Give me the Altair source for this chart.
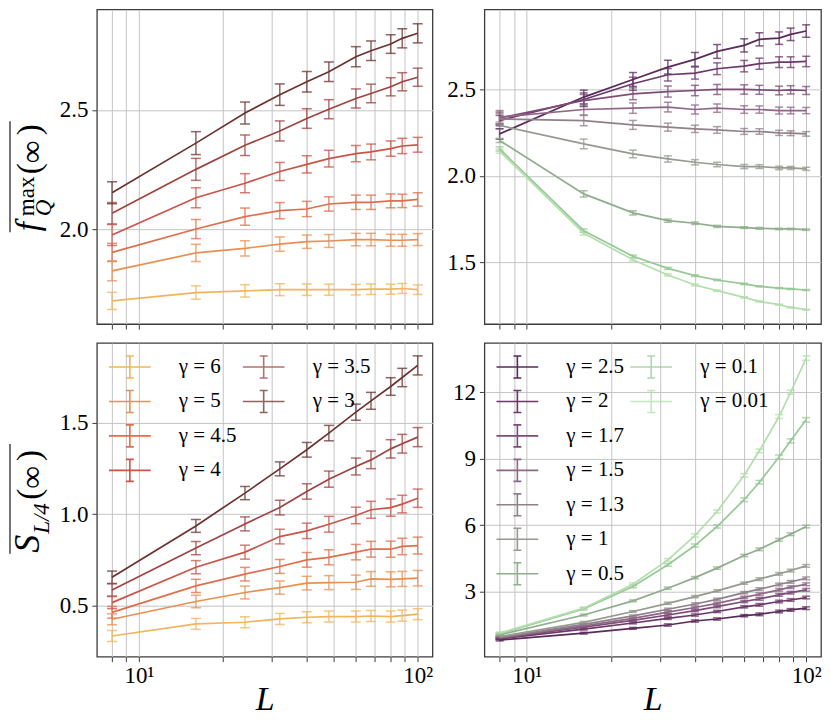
import altair as alt
import pandas as pd

FONT = "Liberation Serif"

# ---------------- data ----------------
L = [8, 16, 24, 32, 40, 48, 60, 68, 80, 88, 100]
X_TICKS = [8, 9, 10, 20, 30, 40, 50, 60, 70, 80, 90, 100]

# left panels: gamma >= 3
gam_left = ["6", "5", "4.5", "4", "3.5", "3"]
col_left = ["#f2b55c", "#ea8f52", "#df6f4c", "#c9554a", "#9e4441", "#6b3330"]

# right panels: gamma <= 2.5
gam_right = ["2.5", "2", "1.7", "1.5", "1.3", "1", "0.5", "0.1", "0.01"]
col_right = ["#5a2a5a", "#6c386a", "#7d4d78", "#8e6787", "#908089",
             "#959b8e", "#8fae8b", "#98c896", "#b2dfab"]

# top-left: mean f_Q^max(inf)
fq_6 = [1.700, 1.735, 1.742, 1.747, 1.747, 1.747, 1.747, 1.749, 1.749, 1.752, 1.747]
fq_5 = [1.826, 1.901, 1.920, 1.938, 1.948, 1.951, 1.957, 1.957, 1.954, 1.954, 1.957]
fq_4_5 = [1.903, 2.001, 2.053, 2.078, 2.085, 2.106, 2.113, 2.113, 2.119, 2.119, 2.125]
fq_4 = [1.976, 2.132, 2.193, 2.242, 2.272, 2.296, 2.317, 2.324, 2.338, 2.349, 2.354]
fq_3_5 = [2.067, 2.251, 2.352, 2.412, 2.464, 2.503, 2.548, 2.569, 2.597, 2.618, 2.637]
fq_3 = [2.153, 2.361, 2.487, 2.564, 2.618, 2.660, 2.723, 2.748, 2.776, 2.800, 2.821]

fq_6_err = [0.036, 0.028, 0.026, 0.025, 0.024, 0.023, 0.022, 0.022, 0.021, 0.021, 0.020]
fq_5_err = [0.042, 0.036, 0.032, 0.030, 0.028, 0.027, 0.026, 0.026, 0.025, 0.025, 0.025]
fq_4_5_err = [0.038, 0.040, 0.036, 0.034, 0.032, 0.030, 0.030, 0.030, 0.029, 0.028, 0.028]
fq_4_err = [0.044, 0.042, 0.040, 0.038, 0.036, 0.035, 0.034, 0.033, 0.032, 0.032, 0.031]
fq_3_5_err = [0.045, 0.046, 0.043, 0.042, 0.041, 0.040, 0.040, 0.039, 0.038, 0.038, 0.038]
fq_3_err = [0.046, 0.048, 0.046, 0.045, 0.043, 0.041, 0.042, 0.041, 0.039, 0.040, 0.040]

# top-right
fq_2_5 = [2.243, 2.456, 2.558, 2.629, 2.674, 2.720, 2.755, 2.790, 2.797, 2.819, 2.838]
fq_2 = [2.320, 2.442, 2.533, 2.585, 2.595, 2.620, 2.635, 2.649, 2.658, 2.658, 2.662]
fq_1_7 = [2.334, 2.436, 2.475, 2.488, 2.494, 2.500, 2.500, 2.498, 2.494, 2.498, 2.494]
fq_1_5 = [2.340, 2.384, 2.392, 2.398, 2.384, 2.392, 2.384, 2.384, 2.378, 2.378, 2.378]
fq_1_3 = [2.330, 2.320, 2.295, 2.282, 2.272, 2.266, 2.257, 2.257, 2.249, 2.247, 2.243]
fq_1 = [2.292, 2.185, 2.127, 2.098, 2.079, 2.066, 2.054, 2.054, 2.046, 2.046, 2.041]
fq_0_5 = [2.205, 1.896, 1.786, 1.741, 1.726, 1.708, 1.701, 1.697, 1.693, 1.693, 1.689]
fq_0_1 = [2.156, 1.683, 1.535, 1.465, 1.423, 1.398, 1.375, 1.361, 1.351, 1.346, 1.340]
fq_0_01 = [2.143, 1.668, 1.515, 1.427, 1.369, 1.336, 1.297, 1.274, 1.255, 1.239, 1.226]

fq_2_5_err = [0.030, 0.040, 0.040, 0.040, 0.040, 0.040, 0.038, 0.038, 0.036, 0.036, 0.036]
fq_2_err = [0.030, 0.038, 0.038, 0.036, 0.035, 0.034, 0.033, 0.032, 0.031, 0.031, 0.030]
fq_1_7_err = [0.035, 0.035, 0.034, 0.032, 0.030, 0.029, 0.027, 0.026, 0.025, 0.024, 0.023]
fq_1_5_err = [0.038, 0.032, 0.030, 0.028, 0.026, 0.024, 0.022, 0.021, 0.020, 0.019, 0.018]
fq_1_3_err = [0.030, 0.030, 0.026, 0.023, 0.021, 0.019, 0.017, 0.016, 0.015, 0.014, 0.013]
fq_1_err = [0.020, 0.028, 0.022, 0.018, 0.015, 0.013, 0.012, 0.011, 0.010, 0.009, 0.009]
fq_0_5_err = [0.012, 0.018, 0.012, 0.009, 0.007, 0.006, 0.005, 0.005, 0.004, 0.004, 0.004]
fq_0_1_err = [0.012, 0.010, 0.007, 0.006, 0.005, 0.004, 0.004, 0.003, 0.003, 0.003, 0.003]
fq_0_01_err = [0.012, 0.010, 0.007, 0.006, 0.005, 0.004, 0.004, 0.003, 0.003, 0.003, 0.003]

# bottom-left: mean S_{L/4}(inf)
s_6 = [0.336, 0.402, 0.411, 0.429, 0.438, 0.442, 0.442, 0.445, 0.442, 0.447, 0.455]
s_5 = [0.427, 0.524, 0.573, 0.600, 0.624, 0.627, 0.629, 0.647, 0.645, 0.647, 0.651]
s_4_5 = [0.465, 0.609, 0.673, 0.715, 0.751, 0.765, 0.793, 0.809, 0.809, 0.824, 0.829]
s_4 = [0.518, 0.711, 0.793, 0.878, 0.909, 0.945, 0.993, 1.024, 1.036, 1.055, 1.087]
s_3_5 = [0.587, 0.815, 0.947, 1.036, 1.124, 1.191, 1.260, 1.296, 1.356, 1.384, 1.420]
s_3 = [0.656, 0.936, 1.115, 1.247, 1.351, 1.442, 1.556, 1.618, 1.696, 1.745, 1.811]

s_6_err = [0.030, 0.030, 0.030, 0.030, 0.030, 0.030, 0.030, 0.030, 0.030, 0.030, 0.030]
s_5_err = [0.030, 0.034, 0.035, 0.036, 0.037, 0.038, 0.039, 0.040, 0.041, 0.041, 0.042]
s_4_5_err = [0.032, 0.036, 0.037, 0.038, 0.040, 0.041, 0.042, 0.043, 0.044, 0.045, 0.046]
s_4_err = [0.033, 0.036, 0.038, 0.040, 0.042, 0.043, 0.045, 0.046, 0.047, 0.048, 0.050]
s_3_5_err = [0.034, 0.036, 0.038, 0.040, 0.042, 0.044, 0.046, 0.048, 0.050, 0.051, 0.052]
s_3_err = [0.034, 0.035, 0.036, 0.038, 0.040, 0.042, 0.044, 0.046, 0.048, 0.050, 0.052]

# bottom-right
s_2_5 = [0.81, 1.12, 1.34, 1.49, 1.67, 1.76, 1.91, 1.97, 2.10, 2.17, 2.25]
s_2 = [0.86, 1.30, 1.58, 1.79, 1.94, 2.10, 2.31, 2.40, 2.55, 2.62, 2.73]
s_1_7 = [0.89, 1.39, 1.70, 1.94, 2.14, 2.32, 2.55, 2.67, 2.85, 2.95, 3.08]
s_1_5 = [0.92, 1.45, 1.79, 2.07, 2.28, 2.47, 2.74, 2.88, 3.08, 3.20, 3.33]
s_1_3 = [0.93, 1.52, 1.90, 2.20, 2.44, 2.65, 2.95, 3.11, 3.32, 3.44, 3.60]
s_1 = [0.97, 1.61, 2.10, 2.47, 2.77, 3.03, 3.38, 3.56, 3.80, 3.95, 4.16]
s_0_5 = [1.04, 1.94, 2.58, 3.15, 3.63, 4.06, 4.63, 4.91, 5.34, 5.59, 5.94]
s_0_1 = [1.09, 2.22, 3.23, 4.21, 5.08, 5.94, 7.15, 7.94, 9.08, 9.81, 10.76]
s_0_01 = [1.12, 2.25, 3.33, 4.43, 5.53, 6.62, 8.25, 9.36, 10.91, 12.01, 13.55]

s_small_err = [0.04, 0.04, 0.04, 0.05, 0.05, 0.05, 0.05, 0.06, 0.06, 0.06, 0.06]
s_green_err = [0.05, 0.05, 0.06, 0.06, 0.07, 0.07, 0.08, 0.08, 0.09, 0.09, 0.10]

tl_series = [fq_6, fq_5, fq_4_5, fq_4, fq_3_5, fq_3]
tl_errors = [fq_6_err, fq_5_err, fq_4_5_err, fq_4_err, fq_3_5_err, fq_3_err]
tr_series = [fq_2_5, fq_2, fq_1_7, fq_1_5, fq_1_3, fq_1, fq_0_5, fq_0_1, fq_0_01]
tr_errors = [fq_2_5_err, fq_2_err, fq_1_7_err, fq_1_5_err, fq_1_3_err, fq_1_err,
             fq_0_5_err, fq_0_1_err, fq_0_01_err]
bl_series = [s_6, s_5, s_4_5, s_4, s_3_5, s_3]
bl_errors = [s_6_err, s_5_err, s_4_5_err, s_4_err, s_3_5_err, s_3_err]
br_series = [s_2_5, s_2, s_1_7, s_1_5, s_1_3, s_1, s_0_5, s_0_1, s_0_01]
br_errors = [s_small_err] * 7 + [s_green_err] * 2

# ---------------- helpers ----------------
X_MIN, X_MAX = 7.06, 113
LEG_PATH = "M-1.9,0H1.9M0,-1V1M-0.36,-1H0.36M-0.36,1H0.36"
ONE = alt.Data(values=[{"k": 1}])


def axis_x(bottom):
    kw = dict(values=X_TICKS, grid=True, ticks=True, tickSize=5, domain=False,
              labelExpr="datum.value == 10 ? '10¹' : (datum.value == 100 ? '10²' : '')",
              labelFont=FONT, labelFontSize=23, labelPadding=3, labelFlush=False,
              labelOverlap=False, labelColor="black")
    if bottom:
        kw.update(title="L", titleFont=FONT, titleFontSize=34, titleFontStyle="italic",
                  titleFontWeight="normal", titlePadding=-5, titleColor="black")
    else:
        kw.update(labels=False, title=None)
    return alt.Axis(**kw)


def axis_y(ticks, fmt):
    return alt.Axis(values=ticks, format=fmt, grid=True, tickSize=5, domain=False, title=None,
                    labelFont=FONT, labelFontSize=23, labelPadding=4, labelFlush=False,
                    labelColor="black")


def legend(values, orient, **kw):
    return alt.Legend(values=values, orient=orient, title=None, symbolType=LEG_PATH,
                      symbolSize=484, symbolStrokeWidth=1.6, symbolOffset=9, labelOffset=37,
                      labelFont=FONT, labelFontSize=21, labelColor="black", rowPadding=4.5,
                      padding=0, **kw)


def txt(s, x, y, size, italic=False):
    return alt.Chart(ONE).mark_text(
        text=s, font=FONT, fontSize=size, fontStyle="italic" if italic else "normal",
        angle=270, align="left", baseline="alphabetic", color="black"
    ).encode(x=alt.value(x), y=alt.value(y))


def overline(x, y1, y2):
    return alt.Chart(ONE).mark_rule(color="black", strokeWidth=1.1).encode(
        x=alt.value(x), y=alt.value(y1), y2=alt.value(y2))


def panel(gammas, colors, series, errors, ydom, yticks, yfmt, bottom, width, height,
          cap_size, n_a, show_legend, extra):
    labels = ["γ = " + g for g in gammas]
    rows = []
    for lab, vals, errs in zip(labels, series, errors):
        for l, v, e in zip(L, vals, errs):
            rows.append({"L": l, "value": v, "lo": v - e, "hi": v + e, "label": lab})
    df = pd.DataFrame(rows)
    xs = alt.Scale(type="log", domain=[X_MIN, X_MAX], nice=False)
    ys = alt.Scale(domain=ydom, nice=False, zero=False)
    xax = axis_x(bottom)
    yax = axis_y(yticks, yfmt)
    cscale = alt.Scale(domain=labels, range=colors)
    if show_legend:
        leg_a = legend(labels[:n_a], "top-left", offset=12)
        leg_b = legend(labels[n_a:], "none", legendX=146, legendY=12)
    else:
        leg_a = None
        leg_b = None
    X = alt.X("L:Q", scale=xs, axis=xax)
    stroke = alt.Stroke("label:N", scale=cscale, legend=leg_b)
    color = alt.Color("label:N", scale=cscale, legend=leg_a)
    base = alt.Chart(df)
    bars = base.mark_rule(strokeWidth=1.5, opacity=0.75).encode(
        x=X, y=alt.Y("lo:Q", scale=ys, axis=yax), y2="hi:Q", stroke=stroke)
    caps_lo = base.mark_point(shape="M-1,0H1", size=cap_size, filled=False,
                              strokeWidth=1.5, opacity=0.75).encode(
        x=X, y=alt.Y("lo:Q", scale=ys, axis=yax), stroke=stroke)
    caps_hi = base.mark_point(shape="M-1,0H1", size=cap_size, filled=False,
                              strokeWidth=1.5, opacity=0.75).encode(
        x=X, y=alt.Y("hi:Q", scale=ys, axis=yax), stroke=stroke)
    lines = base.mark_line(strokeWidth=1.7).encode(
        x=X, y=alt.Y("value:Q", scale=ys, axis=yax), color=color, detail="label:N")
    return alt.layer(bars, caps_lo, caps_hi, lines, *extra).properties(width=width, height=height)


# y-axis titles (LaTeX-like, built from pieces)
tl_title = [
    overline(-87, 112, 223),
    txt("f", -58, 222, 33, italic=True),
    txt("Q", -46, 207, 23, italic=True),
    txt("max", -63, 207, 23),
    txt("(", -57, 165, 33),
    txt("∞", -55, 154, 32),
    txt(")", -57, 126, 33),
]
bl_title = [
    overline(-87, 101, 211),
    txt("S", -58, 210, 36, italic=True),
    txt("L/4", -48, 191, 23, italic=True),
    txt("(", -57, 157, 33),
    txt("∞", -55, 146, 32),
    txt(")", -57, 118, 33),
]

tl = panel(gam_left, col_left, tl_series, tl_errors, [1.603, 2.921], [2.0, 2.5], ".1f",
           False, 336, 315, 100, 4, False, tl_title)
tr = panel(gam_right, col_right, tr_series, tr_errors, [1.143, 2.963], [1.5, 2.0, 2.5], ".1f",
           False, 337, 315, 64, 7, False, [])
bl = panel(gam_left, col_left, bl_series, bl_errors, [0.2234, 1.933], [0.5, 1.0, 1.5], ".1f",
           True, 336, 314, 100, 4, True, bl_title)
br = panel(gam_right, col_right, br_series, br_errors, [0.06, 14.23], [3, 6, 9, 12], "d",
           True, 337, 314, 64, 7, True, [])

chart = alt.concat(
    tl, tr, bl, br, columns=2, spacing={"row": 11, "column": 12}
).resolve_scale(
    color="independent", stroke="independent"
).resolve_legend(
    color="independent", stroke="independent"
).properties(
    padding=0
).configure(
    font=FONT
).configure_view(
    stroke="#3c3c3c", strokeWidth=1.3
).configure_axis(
    gridColor="#c4c4c4", gridWidth=1, tickColor="#3c3c3c", tickWidth=1,
    labelFont=FONT, titleFont=FONT
).configure_legend(
    labelFont=FONT
)

chart.save("out.html", embed_options={"renderer": "svg", "actions": False})
